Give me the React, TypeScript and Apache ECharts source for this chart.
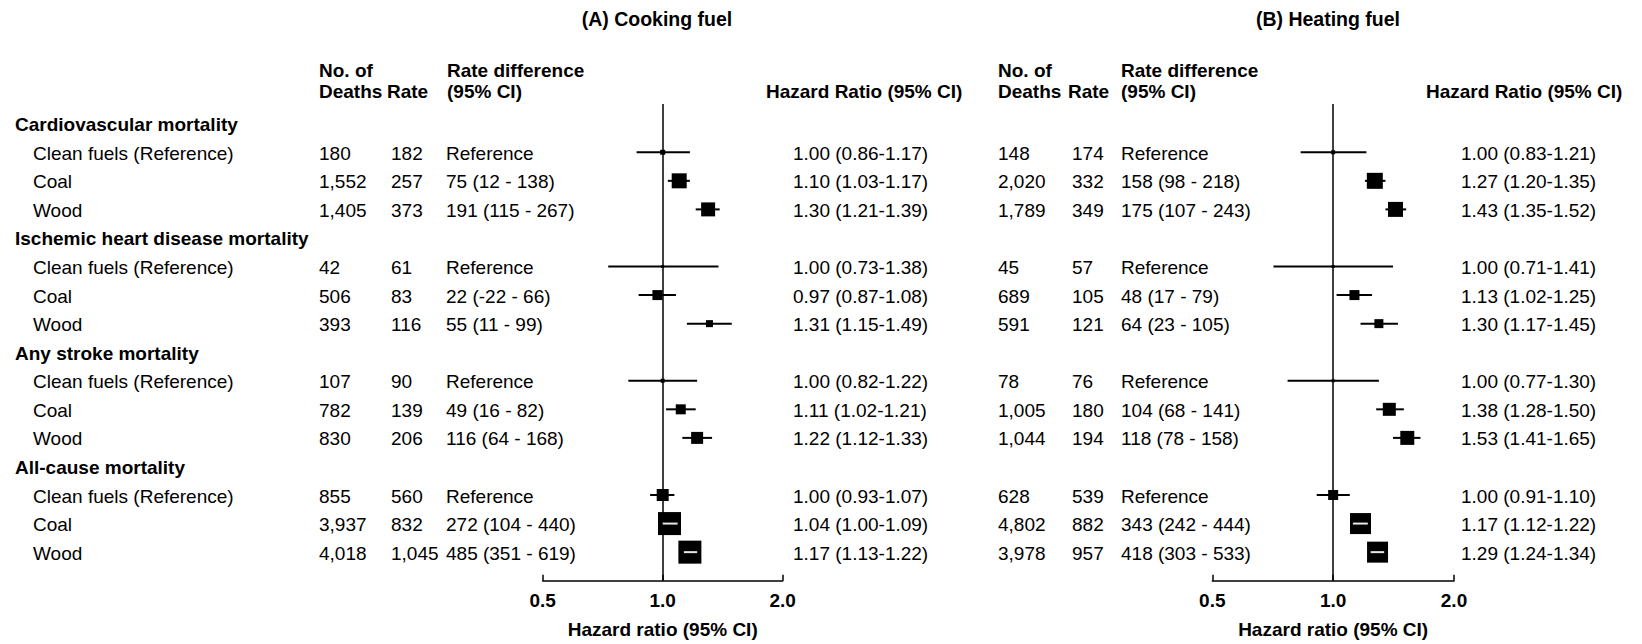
import React, { useEffect, useRef } from "react";
import * as echarts from "echarts";

// ---------- data ----------
const sections = [
  "Cardiovascular mortality",
  "Ischemic heart disease mortality",
  "Any stroke mortality",
  "All-cause mortality",
];
const groups = ["Clean fuels (Reference)", "Coal", "Wood"];

// (A) Cooking fuel
const cookDeaths = ["180", "1,552", "1,405", "42", "506", "393", "107", "782", "830", "855", "3,937", "4,018"];
const cookRate = ["182", "257", "373", "61", "83", "116", "90", "139", "206", "560", "832", "1,045"];
const cookRD = ["Reference", "75 (12 - 138)", "191 (115 - 267)", "Reference", "22 (-22 - 66)", "55 (11 - 99)", "Reference", "49 (16 - 82)", "116 (64 - 168)", "Reference", "272 (104 - 440)", "485 (351 - 619)"];
const cookHR = [1.0, 1.1, 1.3, 1.0, 0.97, 1.31, 1.0, 1.11, 1.22, 1.0, 1.04, 1.17];
const cookLo = [0.86, 1.03, 1.21, 0.73, 0.87, 1.15, 0.82, 1.02, 1.12, 0.93, 1.0, 1.13];
const cookHi = [1.17, 1.17, 1.39, 1.38, 1.08, 1.49, 1.22, 1.21, 1.33, 1.07, 1.09, 1.22];
const cookWeight = [4.7, 42.5, 37, 1.7, 18.9, 9.3, 3, 18.9, 27.2, 27.2, 100, 100];

// (B) Heating fuel
const heatDeaths = ["148", "2,020", "1,789", "45", "689", "591", "78", "1,005", "1,044", "628", "4,802", "3,978"];
const heatRate = ["174", "332", "349", "57", "105", "121", "76", "180", "194", "539", "882", "957"];
const heatRD = ["Reference", "158 (98 - 218)", "175 (107 - 243)", "Reference", "48 (17 - 79)", "64 (23 - 105)", "Reference", "104 (68 - 141)", "118 (78 - 158)", "Reference", "343 (242 - 444)", "418 (303 - 533)"];
const heatHR = [1.0, 1.27, 1.43, 1.0, 1.13, 1.3, 1.0, 1.38, 1.53, 1.0, 1.17, 1.29];
const heatLo = [0.83, 1.2, 1.35, 0.71, 1.02, 1.17, 0.77, 1.28, 1.41, 0.91, 1.12, 1.24];
const heatHi = [1.21, 1.35, 1.52, 1.41, 1.25, 1.45, 1.3, 1.5, 1.65, 1.1, 1.22, 1.34];
const heatWeight = [3, 48.4, 42.5, 1.7, 18.9, 15.3, 1.7, 32, 37, 18.9, 83.4, 83.4];

const xTicks = [0.5, 1, 2];

// ---------- layout / style ----------
const FONT = "'Liberation Sans', Arial, sans-serif";
const FS = 19;
const rowOf = (k: number) => Math.floor(k / 3) * 4 + 1 + (k % 3);
const fmt = (v: number) => v.toFixed(2);

function txt(x: number, y: number, text: string, bold = false, align = "left", size = FS) {
  return {
    type: "text",
    x,
    y,
    silent: true,
    style: {
      text,
      fill: "#000",
      fontSize: size,
      fontFamily: FONT,
      fontWeight: bold ? "bold" : "normal",
      align,
      textAlign: align,
      verticalAlign: "middle",
      textVerticalAlign: "middle",
    },
  };
}

function panelSeries(
  gi: number,
  deaths: string[],
  rate: string[],
  rd: string[],
  hr: number[],
  lo: number[],
  hi: number[],
  weight: number[],
  cols: number[]
) {
  const markerData = hr.map((h, k) => [h, lo[k], hi[k], rowOf(k), weight[k]]);
  const textData = hr.map((_, k) => [1, rowOf(k)]);
  return [
    {
      type: "custom",
      xAxisIndex: gi,
      yAxisIndex: gi,
      silent: true,
      z: 5,
      encode: { x: [0, 1, 2], y: 3 },
      data: markerData,
      markLine: {
        silent: true,
        symbol: "none",
        label: { show: false },
        lineStyle: { color: "#000", type: "solid", width: 1.5 },
        data: [{ xAxis: 1 }],
      },
      renderItem: (params: any, api: any) => {
        const h = api.value(0);
        const l = api.value(1);
        const u = api.value(2);
        const r = api.value(3);
        const w = api.value(4);
        const c = api.coord([h, r]);
        const cl = api.coord([l, r]);
        const cu = api.coord([u, r]);
        const s = 23 * Math.sqrt(w / 100);
        const children: any[] = [
          {
            type: "line",
            shape: { x1: cl[0], y1: c[1], x2: cu[0], y2: c[1] },
            style: { stroke: "#000", lineWidth: 2 },
          },
          {
            type: "rect",
            shape: { x: c[0] - s / 2, y: c[1] - s / 2, width: s, height: s },
            style: { fill: "#000" },
          },
        ];
        if (cl[0] >= c[0] - s / 2 && cu[0] <= c[0] + s / 2) {
          children.push({
            type: "line",
            shape: { x1: cl[0], y1: c[1], x2: cu[0], y2: c[1] },
            style: { stroke: "#e6e6e6", lineWidth: 2 },
          });
        }
        return { type: "group", children };
      },
    },
    {
      type: "custom",
      xAxisIndex: gi,
      yAxisIndex: gi,
      silent: true,
      z: 4,
      encode: { x: 0, y: 1 },
      data: textData,
      renderItem: (params: any, api: any) => {
        const k = params.dataIndex;
        const y = api.coord([1, api.value(1)])[1] + 1;
        return {
          type: "group",
          children: [
            txt(cols[0], y, deaths[k]),
            txt(cols[1], y, rate[k]),
            txt(cols[2], y, rd[k]),
            txt(cols[3], y, `${fmt(hr[k])} (${fmt(lo[k])}-${fmt(hi[k])})`),
          ],
        };
      },
    },
  ];
}

function labelSeries() {
  const data: number[][] = [];
  const labels: { t: string; b: boolean }[] = [];
  sections.forEach((s, si) => {
    data.push([1, si * 4]);
    labels.push({ t: s, b: true });
    groups.forEach((g, gi) => {
      data.push([1, si * 4 + 1 + gi]);
      labels.push({ t: g, b: false });
    });
  });
  return {
    type: "custom",
    xAxisIndex: 0,
    yAxisIndex: 0,
    silent: true,
    encode: { x: 0, y: 1 },
    data,
    renderItem: (params: any, api: any) => {
      const L = labels[params.dataIndex];
      const y = api.coord([1, api.value(1)])[1] + 1;
      return txt(L.b ? 15 : 33, y, L.t, L.b);
    },
  };
}

function axisPair(gi: number) {
  return {
    x: {
      type: "log",
      logBase: 2,
      gridIndex: gi,
      position: "bottom",
      min: xTicks[0],
      max: xTicks[xTicks.length - 1],
      axisLine: { show: true, onZero: false, lineStyle: { color: "#000", width: 1.5 } },
      axisTick: { show: true, inside: true, length: 6, lineStyle: { color: "#000", width: 1.5 } },
      axisLabel: {
        color: "#000",
        fontSize: FS,
        fontWeight: "bold",
        fontFamily: FONT,
        margin: 10,
        formatter: (v: number) => Number(v).toFixed(1),
      },
      splitLine: { show: false },
      name: "Hazard ratio (95% CI)",
      nameLocation: "middle",
      nameGap: 39,
      nameTextStyle: { color: "#000", fontSize: FS, fontWeight: "bold", fontFamily: FONT },
    },
    y: {
      type: "value",
      gridIndex: gi,
      inverse: true,
      min: -0.69,
      max: 16,
      show: false,
    },
  };
}

export default function App() {
  const ref = useRef<HTMLDivElement>(null);
  useEffect(() => {
    if (!ref.current) return;
    const chart = echarts.init(ref.current, null, { renderer: "svg" });
    const a0 = axisPair(0);
    const a1 = axisPair(1);
    const headers = (x0: number, xr: number, xd: number, xh: number, title: string, tx: number) => [
      txt(tx, 19, title, true, "center", 19.5),
      txt(x0, 70, "No. of", true),
      txt(x0, 91, "Deaths", true),
      txt(xr, 91, "Rate", true),
      txt(xd, 70, "Rate difference", true),
      txt(xd, 91, "(95% CI)", true),
      txt(xh, 91, "Hazard Ratio (95% CI)", true),
    ];
    chart.setOption({
      animation: false,
      backgroundColor: "#fff",
      grid: [
        { left: 542.7, width: 240, top: 104, height: 476.7 },
        { left: 1212.3, width: 241.7, top: 104, height: 476.7 },
      ],
      xAxis: [a0.x, a1.x],
      yAxis: [a0.y, a1.y],
      graphic: [
        ...headers(319, 387, 447, 766, "(A) Cooking fuel", 657),
        ...headers(998, 1068, 1121, 1426, "(B) Heating fuel", 1328),
      ],
      series: [
        labelSeries(),
        ...panelSeries(0, cookDeaths, cookRate, cookRD, cookHR, cookLo, cookHi, cookWeight, [319, 391, 446, 793]),
        ...panelSeries(1, heatDeaths, heatRate, heatRD, heatHR, heatLo, heatHi, heatWeight, [998, 1072, 1121, 1461]),
      ],
    });
    return () => chart.dispose();
  }, []);
  return (
    <div
      ref={ref}
      style={{ position: "absolute", left: 0, top: 0, width: 1642, height: 644, background: "#fff" }}
    />
  );
}
